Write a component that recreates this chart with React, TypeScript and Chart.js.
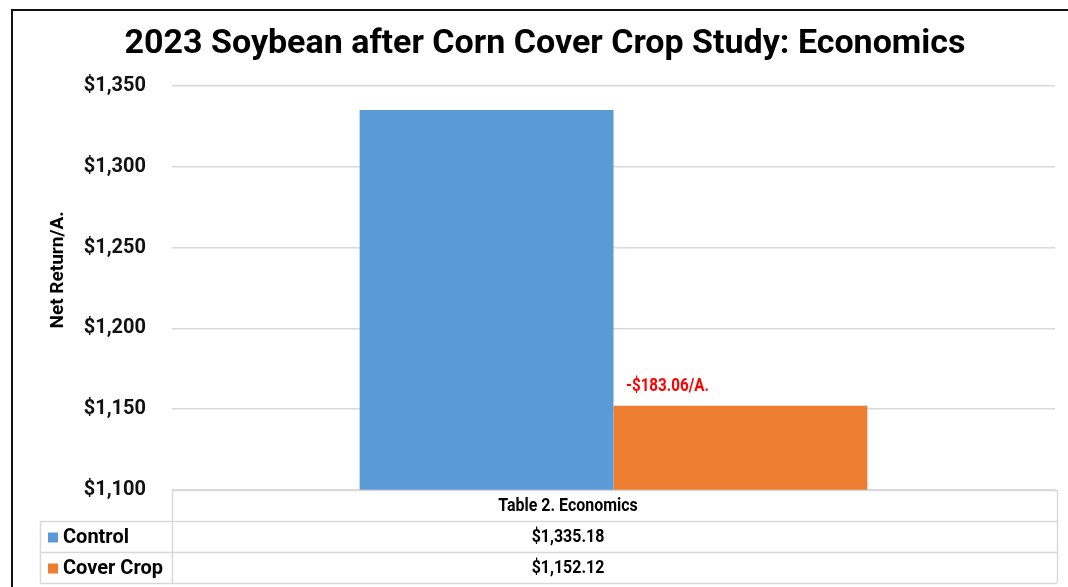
import React, { useEffect, useRef } from "react";
import { Chart, registerables } from "chart.js";

Chart.register(...registerables);

const chartTitle = "2023 Soybean after Corn Cover Crop Study: Economics";
const categories = ["Table 2. Economics"];
const seriesNames = ["Control", "Cover Crop"];
const controlValues = [1335.18];
const coverCropValues = [1152.12];
const seriesColors = ["#5B9BD5", "#ED7D31"];
const yAxisTitle = "Net Return/A.";
const yMin = 1100;
const yMax = 1350;
const yStep = 50;

const FONT = "Roboto, 'Noto Sans', sans-serif";

const money0 = (v: number) => "$" + v.toLocaleString("en-US", { maximumFractionDigits: 0 });
const money2 = (v: number) =>
  "$" + v.toLocaleString("en-US", { minimumFractionDigits: 2, maximumFractionDigits: 2 });
const diffLabel = (a: number, b: number) => {
  const d = b - a;
  return (d < 0 ? "-" : "") + money2(Math.abs(d)) + "/A.";
};

// draw condensed text (horizontal squeeze)
function condensedText(ctx: CanvasRenderingContext2D, text: string, x: number, y: number, sx: number) {
  ctx.save();
  ctx.translate(x, y);
  ctx.scale(sx, 1);
  ctx.fillText(text, 0, 0);
  ctx.restore();
}

const overlayPlugin = {
  id: "overlay",
  afterDraw(chart: any) {
    const ctx = chart.ctx as CanvasRenderingContext2D;
    const area = chart.chartArea;
    ctx.save();

    // outer frame
    ctx.fillStyle = "#111";
    ctx.fillRect(11, 9, 1068, 2);
    ctx.fillRect(11, 9, 2, 600);

    // title
    ctx.fillStyle = "#000";
    ctx.font = `bold 34px ${FONT}`;
    ctx.textAlign = "center";
    ctx.textBaseline = "middle";
    ctx.fillText(chartTitle, 545, 44);

    // y axis title
    ctx.save();
    ctx.translate(58, area.top + (area.bottom - area.top) * 0.455);
    ctx.rotate(-Math.PI / 2);
    ctx.font = `bold 19px ${FONT}`;
    ctx.fillStyle = "#000";
    ctx.fillText(yAxisTitle, 0, 0);
    ctx.restore();

    // data label over second bar
    const meta1 = chart.getDatasetMeta(1);
    const bar = meta1.data[0];
    ctx.font = `bold 19px ${FONT}`;
    ctx.fillStyle = "#FF0000";
    condensedText(ctx, diffLabel(controlValues[0], coverCropValues[0]), bar.x - 73, bar.y - 20, 0.8);

    // data table
    const top = area.bottom;
    const rowH = 31;
    const right = area.right + 2;
    const legendLeft = 40;
    const colLeft = area.left;
    ctx.strokeStyle = "#d9d9d9";
    ctx.lineWidth = 1.5;
    ctx.beginPath();
    ctx.moveTo(colLeft, top + 0.5);
    ctx.lineTo(right, top + 0.5);
    for (let i = 1; i <= 3; i++) {
      const y = top + rowH * i + 0.5;
      ctx.moveTo(legendLeft, y);
      ctx.lineTo(right, y);
    }
    ctx.moveTo(colLeft + 0.5, top);
    ctx.lineTo(colLeft + 0.5, top + rowH * 3);
    ctx.moveTo(right + 0.5, top);
    ctx.lineTo(right + 0.5, top + rowH * 3);
    ctx.moveTo(legendLeft + 0.5, top + rowH);
    ctx.lineTo(legendLeft + 0.5, top + rowH * 3);
    ctx.stroke();

    const textX = area.left + (area.right - area.left) * 0.4485;
    ctx.fillStyle = "#000";
    ctx.font = `bold 19px ${FONT}`;
    ctx.textAlign = "center";
    condensedText(ctx, categories[0], textX, top + rowH / 2 + 1, 0.84);
    const vals = [controlValues[0], coverCropValues[0]];
    vals.forEach((v, i) => {
      const cy = top + rowH * (i + 1) + rowH / 2 + 1;
      ctx.textAlign = "center";
      ctx.fillStyle = "#000";
      ctx.font = `bold 19px ${FONT}`;
      condensedText(ctx, money2(v), textX, cy, 0.84);
      ctx.fillStyle = seriesColors[i];
      ctx.fillRect(48, cy - 5, 10, 10);
      ctx.fillStyle = "#000";
      ctx.textAlign = "left";
      ctx.font = `bold 20px ${FONT}`;
      ctx.fillText(seriesNames[i], 63, cy);
    });

    ctx.restore();
  },
};

export default function App() {
  const ref = useRef<HTMLCanvasElement>(null);
  useEffect(() => {
    if (!ref.current) return;
    const chart = new Chart(ref.current, {
      type: "bar",
      data: {
        labels: categories,
        datasets: [
          {
            label: seriesNames[0],
            data: controlValues,
            backgroundColor: seriesColors[0],
            barPercentage: 1,
            categoryPercentage: 0.575,
          },
          {
            label: seriesNames[1],
            data: coverCropValues,
            backgroundColor: seriesColors[1],
            barPercentage: 1,
            categoryPercentage: 0.575,
          },
        ],
      },
      options: {
        animation: false,
        responsive: false,
        devicePixelRatio: 1,
        layout: { padding: { top: 86, bottom: 97, right: 13, left: 0 } },
        plugins: {
          legend: { display: false },
          title: { display: false },
          tooltip: { enabled: false },
        },
        scales: {
          x: { display: false },
          y: {
            min: yMin,
            max: yMax,
            ticks: {
              stepSize: yStep,
              padding: 26,
              color: "#111",
              font: { family: FONT, size: 20, weight: "bold" },
              callback: (v: any) => money0(Number(v)),
            },
            grid: { color: "#d9d9d9", lineWidth: 1.5, drawTicks: false },
            border: { display: false },
            afterFit: (scale: any) => {
              scale.width = 172;
            },
          },
        },
      },
      plugins: [overlayPlugin],
    } as any);
    return () => chart.destroy();
  }, []);
  return (
    <div style={{ position: "absolute", left: 0, top: 0, width: 1068, height: 587, background: "#fff" }}>
      <canvas ref={ref} width={1068} height={587} />
    </div>
  );
}
